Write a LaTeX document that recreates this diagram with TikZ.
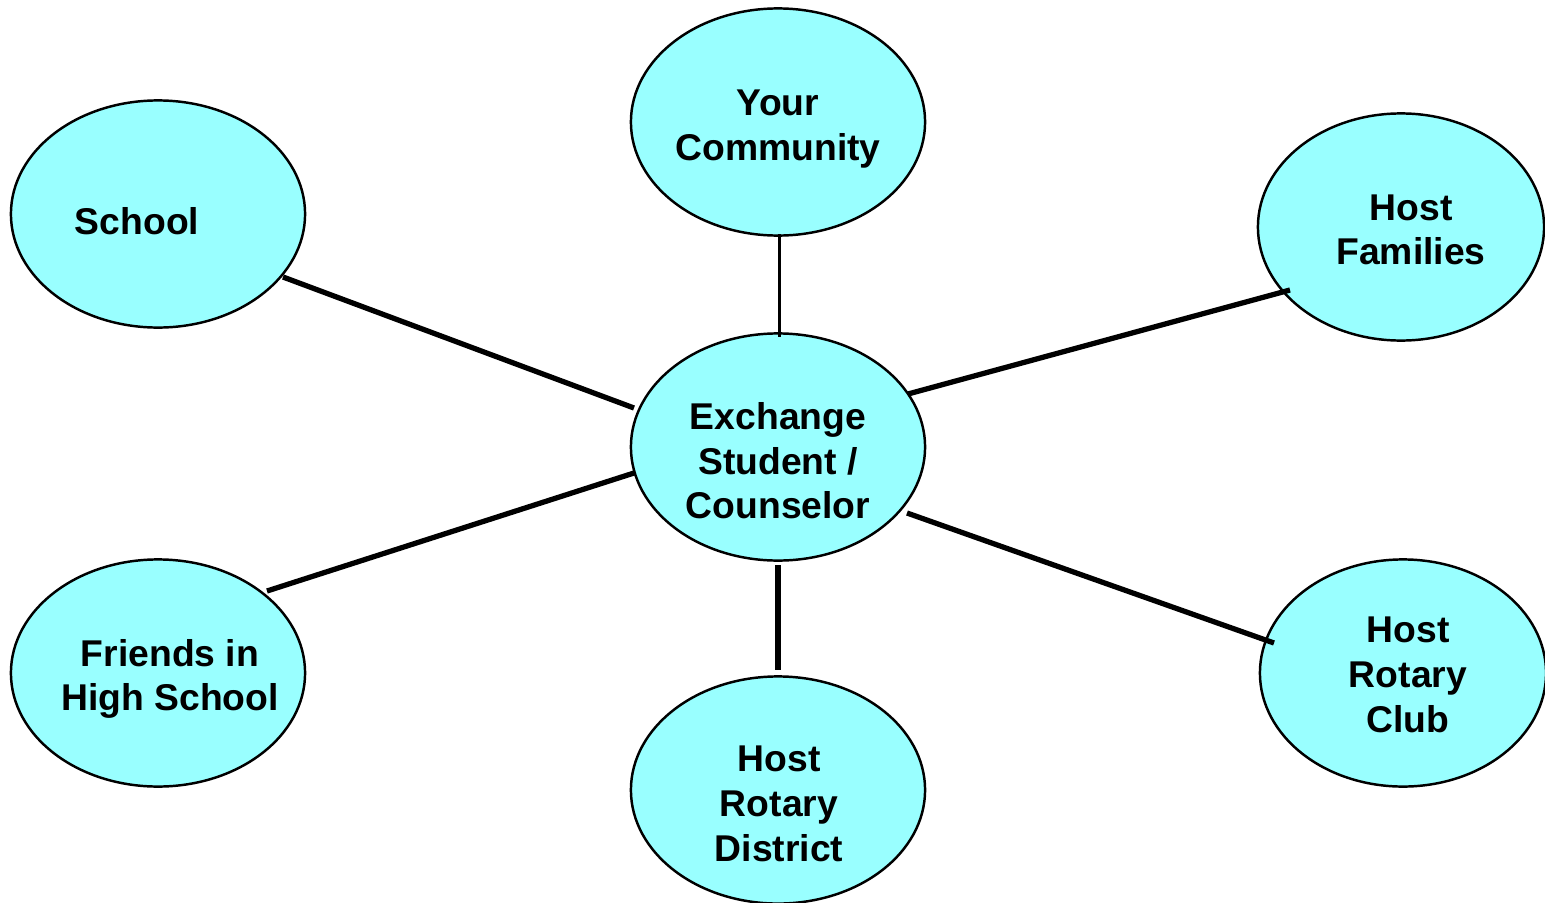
\documentclass[tikz,border=0pt]{standalone}
\usepackage{fontspec}
\setmainfont{Liberation Sans}
\usetikzlibrary{shapes.geometric}
\definecolor{bubble}{RGB}{153,255,255}
\begin{document}
\begin{tikzpicture}[x=0.01cm,y=-0.01cm,
  bubble/.style={ellipse,draw=black,line width=0.7pt,fill=bubble,inner sep=0pt,
     minimum width=2.94cm,minimum height=2.27cm},
  txt/.style={align=center,font=\fontsize{10.6pt}{12.7pt}\selectfont\bfseries,inner sep=0pt},
  thick link/.style={line width=1.5pt},
  thin link/.style={line width=0.85pt}]
\useasboundingbox (0,0) rectangle (1545,903);
% ellipses
\node[bubble] (comm) at (778,122) {};
\node[bubble] (school) at (158,214) {};
\node[bubble,minimum width=2.86cm] (fam) at (1401,227) {};
\node[bubble] (ex) at (778,447) {};
\node[bubble] (friends) at (158,673) {};
\node[bubble] (dist) at (778,790) {};
\node[bubble,minimum width=2.86cm] (club) at (1403,673) {};
% texts
\node[txt] (tcomm) at (778,129) {Your\\Community};
\node[txt] (tschool) at (137,221) {School};
\node[txt] (tfam) at (1411,230) {Host\\Families};
\node[txt] (tex) at (778,461) {Exchange\\Student /\\Counselor};
\node[txt] (tfriends) at (170,679) {Friends in\\High School};
\node[txt] (tdist) at (779,804) {Host\\Rotary\\District};
\node[txt] (tclub) at (1408,675) {Host\\Rotary\\Club};
% connector end points
\coordinate (s1) at (283,277); \coordinate (s2) at (634,408);
\coordinate (c1) at (779,234); \coordinate (c2) at (779,337);
\coordinate (f1) at (908,394); \coordinate (f2) at (1290,290);
\coordinate (h1) at (267,591); \coordinate (h2) at (634,473);
\coordinate (d1) at (778,565); \coordinate (d2) at (778,670);
\coordinate (r1) at (907,513); \coordinate (r2) at (1274,643);
\draw[thick link] (s1) -- (s2);
\draw[thin link] (c1) -- (c2);
\draw[thick link] (f1) -- (f2);
\draw[thick link] (h1) -- (h2);
\draw[thick link] (d1) -- (d2);
\draw[thick link] (r1) -- (r2);
\end{tikzpicture}
\end{document}
